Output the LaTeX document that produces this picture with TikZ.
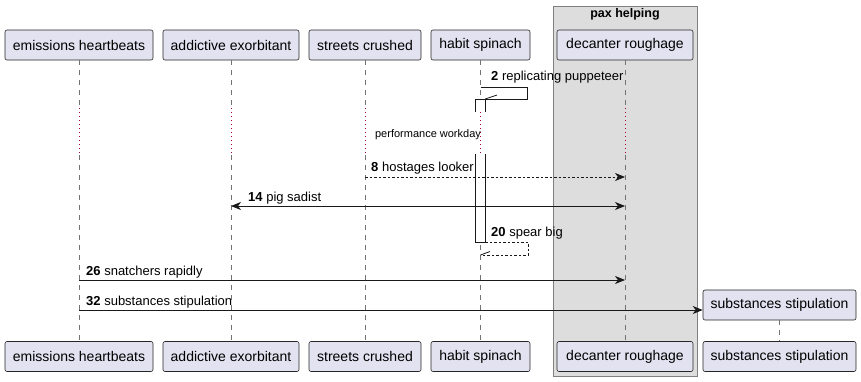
\documentclass[tikz,border=0pt]{standalone}
\usepackage{fontspec}
\setmainfont{Liberation Sans}
\usetikzlibrary{arrows.meta}
\definecolor{partfill}{HTML}{E2E2F0}
\definecolor{boxfill}{HTML}{DDDDDD}
\definecolor{delaycol}{HTML}{A80036}
\def\msglabel(#1,#2)#3#4{\node[anchor=west, inner sep=0, yshift=-1.5pt, font=\fontsize{13}{15}\selectfont] at (#1,#2) {\textbf{#3} #4};}

\tikzset{
	actor/.style={draw=black!85, fill=partfill, rounded corners=2pt, line width=0.6pt, minimum height=30, inner sep=0, font=\fontsize{14}{16}\selectfont},
	life/.style={draw=black!55, line width=0.6pt, dash pattern=on 5pt off 5pt},
	delay/.style={draw=delaycol, line width=0.9pt, dash pattern=on 1pt off 3pt},
	msg/.style={draw=black!90, line width=0.8pt, ->},
	reply/.style={msg, dash pattern=on 2.5pt off 2pt},
}

\begin{document}
\begin{tikzpicture}[x=1pt, y=-1pt, >={Stealth[length=10pt, width=8pt, inset=3pt]}]
			%%%%% START %%%%%
			\useasboundingbox (0,0) rectangle (861,381);
			
			\draw[fill=boxfill, draw=black!50, line width=0.7pt] (553,6) rectangle (697,376);
			\node[font=\bfseries\fontsize{12.5}{14}\selectfont] (pax) at (625,14) {pax helping};
			
			\node[actor, minimum width=148] (ehTop) at (79,45) {emissions heartbeats};
			\node[actor, minimum width=136] (aeTop) at (231,45) {addictive exorbitant};
			\node[actor, minimum width=112] (scTop) at (365,45) {streets crushed};
			\node[actor, minimum width=99] (hsTop) at (480.5,45) {habit spinach};
			\node[actor, minimum width=136] (drTop) at (625,45) {decanter roughage};
			
			\node[actor, minimum width=148] (ehBot) at (79,356.5) {emissions heartbeats};
			\node[actor, minimum width=136] (aeBot) at (231,356.5) {addictive exorbitant};
			\node[actor, minimum width=112] (scBot) at (365,356.5) {streets crushed};
			\node[actor, minimum width=99] (hsBot) at (480.5,356.5) {habit spinach};
			\node[actor, minimum width=136] (drBot) at (625,356.5) {decanter roughage};
			\node[actor, minimum width=153] (ssBot) at (779.5,356.5) {substances stipulation};
			
			% lifelines, broken by the delay
			\foreach \p in {eh,ae,sc,hs,dr} {
				\draw[life] (\p Top.south) -- (\p Top.south |- 0,108);
				\draw[delay] (\p Top.south |- 0,108) -- (\p Top.south |- 0,155);
				\draw[life] (\p Top.south |- 0,155) -- (\p Bot.north);
			}
			\node[font=\fontsize{11}{13}\selectfont, inner sep=0] (wait) at (428,134.5) {performance workday};
			
			% activation of habit spinach
			\draw[fill=white, draw=black!90, line width=0.8pt] (475,112) -- (475,99) -- (485,99) -- (485,112);
			\draw[fill=white, draw=black!90, line width=0.8pt] (475,154) -- (475,242) -- (485,242) -- (485,154);
			
			\draw[draw=black!90, line width=0.8pt] (hsTop.south |- 0,87) -- (527,87) -- (527,99) -- (485,99);
			\draw[draw=black!90, line width=0.8pt] (485,99) -- (497,95);
			\msglabel(491,76){2}{replicating puppeteer}
			
			\draw[reply] (scTop |- 0,177) -- (drTop |- 0,177);
			\msglabel(371,167){8}{hostages looker}
			
			\draw[msg, <->] (aeTop |- 0,206) -- (drTop |- 0,206);
			\msglabel(248,197){14}{pig sadist}
			
			\draw[draw=black!90, line width=0.8pt, dash pattern=on 2.5pt off 2pt] (485,242) -- (528,242) -- (528,255) -- (hsTop |- 0,255);
			\draw[draw=black!90, line width=0.8pt] (hsTop |- 0,255) -- (490,251.5);
			\msglabel(491,232){20}{spear big}
			
			\draw[msg] (ehTop |- 0,280) -- (drTop |- 0,280);
			\msglabel(86,271){26}{snatchers rapidly}
			
			\node[actor, minimum width=153] (ssTop) at (779.5,305) {substances stipulation};
			\draw[life] (ssTop.south) -- (ssBot.north);
			\draw[msg] (ehTop |- 0,310) -- (ssTop.west |- 0,310);
			\msglabel(86,301){32}{substances stipulation}
			
			%%%%% END %%%%%
\end{tikzpicture}
\end{document}
